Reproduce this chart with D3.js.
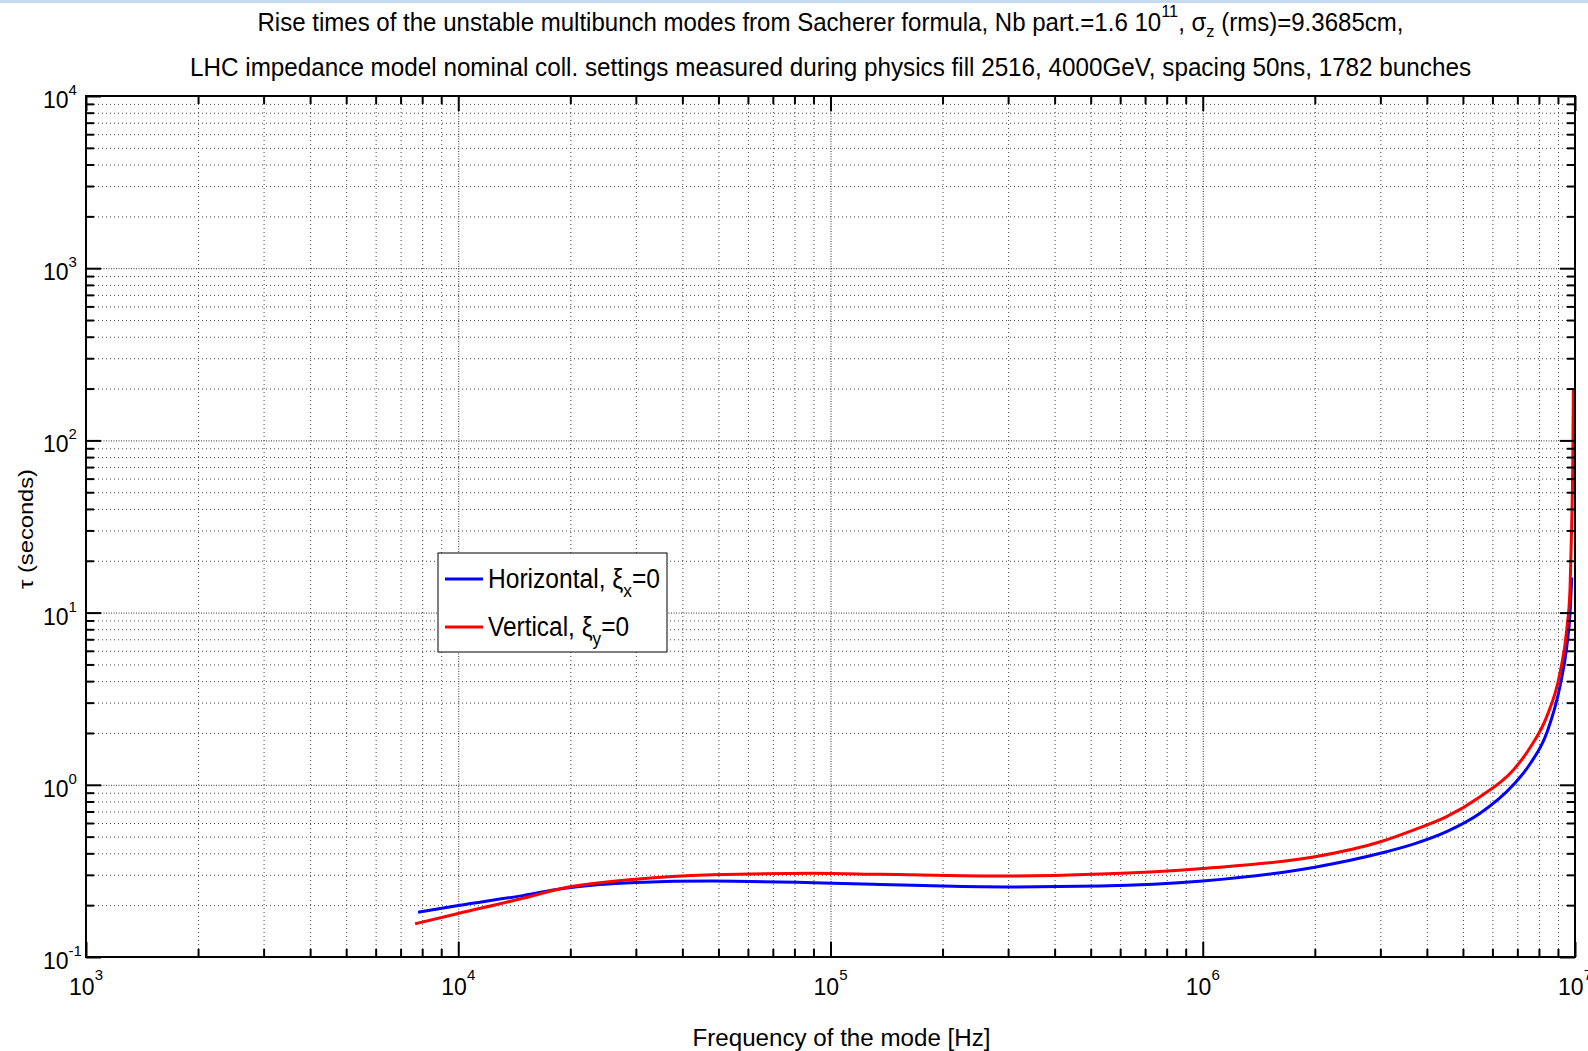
<!DOCTYPE html>
<html>
<head>
<meta charset="utf-8">
<script src="https://cdn.jsdelivr.net/npm/d3@7"></script>
<style>
  body { margin: 0; background: #fff; }
  svg { display: block; font-family: "Liberation Sans", Arial, Helvetica, sans-serif; }
  .grid path, .ticks path { display: none; }
  .grid line { stroke-width: 1; }
  .grid-minor line { stroke: #4a4a4a; stroke-dasharray: 1,3; }
  .grid-major line { stroke: #333; stroke-dasharray: 1,1.5; }
  .ticks line { stroke: #000; stroke-width: 2; }
</style>
</head>
<body>
<svg id="chart"></svg>
<script>
// ---- data ----
// Horizontal plane, xi_x = 0
const freqH = [7.8e3, 1.0e4, 1.5e4, 1.91e4, 3.0e4, 4.8e4, 9.0e4, 1.36e5, 2.0e5, 3.0e5, 5.3e5,
               1.0e6, 2.0e6, 3.0e6, 3.68e6, 4.52e6, 5.56e6, 6.83e6, 7.57e6, 8.39e6, 9.11e6, 9.5e6, 9.7e6, 9.8e6];
const tauH  = [0.182, 0.199, 0.228, 0.250, 0.271, 0.276, 0.270, 0.264, 0.258, 0.255, 0.258,
               0.276, 0.332, 0.400, 0.452, 0.534, 0.683, 1.0, 1.32, 1.99, 3.72, 6.3, 10, 16];
// Vertical plane, xi_y = 0
const freqV = [7.66e3, 1.0e4, 1.5e4, 1.91e4, 3.0e4, 4.8e4, 9.0e4, 1.36e5, 3.0e5, 5.3e5,
               1.0e6, 2.0e6, 3.0e6, 3.68e6, 4.52e6, 5.56e6, 6.83e6, 7.57e6, 8.39e6, 9.11e6, 9.5e6, 9.7e6, 9.79e6, 9.86e6, 9.90e6];
const tauV  = [0.156, 0.179, 0.220, 0.251, 0.283, 0.300, 0.306, 0.302, 0.295, 0.303,
               0.327, 0.382, 0.467, 0.546, 0.653, 0.853, 1.22, 1.64, 2.48, 4.44, 7.9, 14, 30, 70, 196];

const seriesNames = ['Horizontal', 'Vertical'];
const seriesPlane = ['x', 'y'];
const seriesColors = ['#0000ff', '#ff0000'];

const xDecades = [1e3, 1e4, 1e5, 1e6, 1e7];
const yDecades = [1e-1, 1e0, 1e1, 1e2, 1e3, 1e4];

const titleLine1 = [{t: 'Rise times of the unstable multibunch modes from Sacherer formula, Nb part.=1.6 10'},
                    {t: '11', k: 'sup'}, {t: ', σ'}, {t: 'z', k: 'sub'}, {t: ' (rms)=9.3685cm,'}];
const titleLine2 = [{t: 'LHC impedance model nominal coll. settings measured during physics fill 2516, 4000GeV, spacing 50ns, 1782 bunches'}];
const xLabel = 'Frequency of the mode [Hz]';
const yLabel = 'τ (seconds)';

// append text made of pieces, some raised or lowered
function addRich(textSel, parts, base, small, up, down) {
  let shift = 0;
  parts.forEach(p => {
    const target = p.k === 'sup' ? -up : p.k === 'sub' ? down : 0;
    textSel.append('tspan')
      .attr('dy', target - shift)
      .style('font-size', (p.k ? small : base) + 'px')
      .text(p.t);
    shift = target;
  });
}

// minor tick values 2..9 in each decade
function minors(decades) {
  const out = [];
  decades.slice(0, -1).forEach(d => { for (let k = 2; k <= 9; k++) out.push(k * d); });
  return out;
}

class risetime_chart {
  constructor(_config) {
    this.config = {
      parentElement: _config.parentElement,
      containerWidth: _config.containerWidth || 1588,
      containerHeight: _config.containerHeight || 1051,
      margin: _config.margin || {top: 96, right: 13, bottom: 94, left: 86}
    };
    this.initVis();
  }

  initVis() {
    let vis = this;
    vis.width = vis.config.containerWidth - vis.config.margin.left - vis.config.margin.right;
    vis.height = vis.config.containerHeight - vis.config.margin.top - vis.config.margin.bottom;

    vis.xScale = d3.scaleLog().domain([1e3, 1e7]).range([0, vis.width]);
    vis.yScale = d3.scaleLog().domain([1e-1, 1e4]).range([vis.height, 0]);

    vis.svg = d3.select(vis.config.parentElement)
      .attr('width', vis.config.containerWidth)
      .attr('height', vis.config.containerHeight);

    // thin window band at the very top of the screenshot
    vis.svg.append('rect')
      .attr('x', 0).attr('y', 0)
      .attr('width', vis.config.containerWidth).attr('height', 3)
      .attr('fill', '#c6d9f0');

    vis.chart = vis.svg.append('g')
      .attr('transform', `translate(${vis.config.margin.left},${vis.config.margin.top})`);

    vis.renderVis();
  }

  renderVis() {
    let vis = this;
    const xMinor = minors(xDecades), yMinor = minors(yDecades);

    // dotted grid
    [['grid-minor', xMinor, yMinor], ['grid-major', xDecades, yDecades]].forEach(([cls, xv, yv]) => {
      vis.chart.append('g')
        .attr('class', 'grid ' + cls)
        .attr('transform', `translate(0,${vis.height})`)
        .call(d3.axisBottom(vis.xScale).tickValues(xv).tickSize(-vis.height).tickFormat(''));
      vis.chart.append('g')
        .attr('class', 'grid ' + cls)
        .call(d3.axisLeft(vis.yScale).tickValues(yv).tickSize(-vis.width).tickFormat(''));
    });

    // curves
    const line = d3.line()
      .x(d => vis.xScale(d[0]))
      .y(d => vis.yScale(d[1]))
      .curve(d3.curveMonotoneX);
    const series = [d3.zip(freqH, tauH), d3.zip(freqV, tauV)];
    vis.chart.selectAll('.curve')
      .data(series)
      .join('path')
      .attr('class', 'curve')
      .attr('fill', 'none')
      .attr('stroke', (d, i) => seriesColors[i])
      .attr('stroke-width', 3)
      .attr('d', line);

    // inward ticks on all four sides
    const tickSets = [[xDecades, yDecades, 15], [xMinor, yMinor, 8]];
    tickSets.forEach(([xv, yv, len]) => {
      vis.chart.append('g').attr('class', 'ticks')
        .attr('transform', `translate(0,${vis.height})`)
        .call(d3.axisBottom(vis.xScale).tickValues(xv).tickSize(-len).tickFormat(''));
      vis.chart.append('g').attr('class', 'ticks')
        .call(d3.axisTop(vis.xScale).tickValues(xv).tickSize(-len).tickFormat(''));
      vis.chart.append('g').attr('class', 'ticks')
        .call(d3.axisLeft(vis.yScale).tickValues(yv).tickSize(-len).tickFormat(''));
      vis.chart.append('g').attr('class', 'ticks')
        .attr('transform', `translate(${vis.width},0)`)
        .call(d3.axisRight(vis.yScale).tickValues(yv).tickSize(-len).tickFormat(''));
    });

    // box
    vis.chart.append('rect')
      .attr('width', vis.width).attr('height', vis.height)
      .attr('fill', 'none').attr('stroke', '#000').attr('stroke-width', 2);

    // tick labels 10^n
    vis.chart.selectAll('.xlab')
      .data(xDecades)
      .join('text')
      .attr('class', 'xlab')
      .attr('x', d => vis.xScale(d))
      .attr('y', vis.height + 38)
      .attr('text-anchor', 'middle')
      .each(function(d) {
        addRich(d3.select(this), [{t: '10'}, {t: String(Math.round(Math.log10(d))), k: 'sup'}], 23, 15, 15, 0);
      });
    vis.chart.selectAll('.ylab')
      .data(yDecades)
      .join('text')
      .attr('class', 'ylab')
      .attr('x', -43)
      .attr('y', d => vis.yScale(d) + 12)
      .attr('text-anchor', 'start')
      .each(function(d) {
        addRich(d3.select(this), [{t: '10'}, {t: String(Math.round(Math.log10(d))), k: 'sup'}], 23, 15, 13, 0);
      });

    // axis titles
    vis.chart.append('text')
      .attr('x', vis.width / 2 + 11)
      .attr('y', vis.height + 89)
      .attr('text-anchor', 'middle')
      .attr('textLength', 298).attr('lengthAdjust', 'spacingAndGlyphs')
      .style('font-size', '23px')
      .text(xLabel);
    vis.svg.append('text')
      .attr('transform', 'translate(33,529) rotate(-90)')
      .attr('text-anchor', 'middle')
      .attr('textLength', 120).attr('lengthAdjust', 'spacingAndGlyphs')
      .style('font-size', '21px')
      .text(yLabel);

    // title
    const t1 = vis.chart.append('text')
      .attr('x', vis.width / 2).attr('y', 31 - vis.config.margin.top)
      .attr('text-anchor', 'middle')
      .attr('textLength', 1146).attr('lengthAdjust', 'spacingAndGlyphs');
    addRich(t1, titleLine1, 25, 17, 14, 6);
    const t2 = vis.chart.append('text')
      .attr('x', vis.width / 2).attr('y', 76 - vis.config.margin.top)
      .attr('text-anchor', 'middle')
      .attr('textLength', 1281).attr('lengthAdjust', 'spacingAndGlyphs');
    addRich(t2, titleLine2, 25, 17, 14, 6);

    // legend
    const legend = vis.svg.append('g').attr('transform', 'translate(438,553)');
    legend.append('rect')
      .attr('width', 229).attr('height', 99)
      .attr('fill', '#fff').attr('stroke', '#000').attr('stroke-width', 1);
    const items = legend.selectAll('.item')
      .data(seriesNames)
      .join('g')
      .attr('class', 'item')
      .attr('transform', (d, i) => `translate(0,${26 + i * 48})`);
    items.append('line')
      .attr('x1', 7).attr('x2', 45)
      .attr('stroke', (d, i) => seriesColors[i])
      .attr('stroke-width', 3);
    items.append('text')
      .attr('x', 50).attr('y', 9)
      .attr('textLength', (d, i) => i === 0 ? 172 : 141)
      .attr('lengthAdjust', 'spacingAndGlyphs')
      .each(function(d, i) {
        addRich(d3.select(this), [{t: d + ', ξ'}, {t: seriesPlane[i], k: 'sub'}, {t: '=0'}], 27, 19, 0, 9);
      });
  }
}

new risetime_chart({parentElement: '#chart'});
</script>
</body>
</html>
